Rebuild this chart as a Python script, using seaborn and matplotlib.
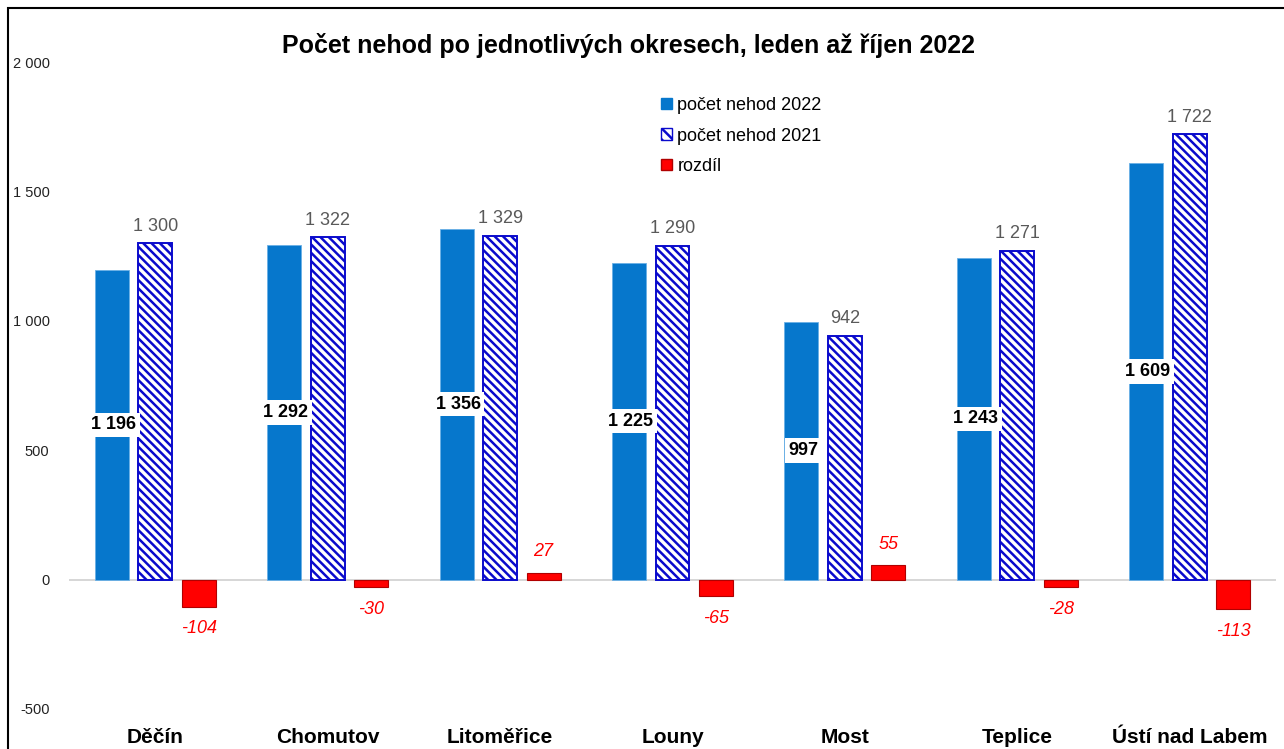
import pandas as pd
import matplotlib
matplotlib.use("Agg")
import matplotlib.pyplot as plt
import seaborn as sns
from matplotlib.patches import Patch, Rectangle
from matplotlib.ticker import FuncFormatter

# data
okresy = ["Děčín", "Chomutov", "Litoměřice", "Louny", "Most", "Teplice", "Ústí nad Labem"]
nehody_2022 = [1196, 1292, 1356, 1225, 997, 1243, 1609]
nehody_2021 = [1300, 1322, 1329, 1290, 942, 1271, 1722]
rozdil = [-104, -30, 27, -65, 55, -28, -113]
serie = ["počet nehod 2022", "počet nehod 2021", "rozdíl"]

df = pd.DataFrame({
    "okres": okresy * 3,
    "serie": [serie[0]] * 7 + [serie[1]] * 7 + [serie[2]] * 7,
    "hodnota": nehody_2022 + nehody_2021 + rozdil,
})

sns.set_style("white")
plt.rcParams["font.family"] = ["Liberation Sans", "DejaVu Sans"]
plt.rcParams["text.color"] = "black"
plt.rcParams["hatch.linewidth"] = 1.8

modra = "#0677CC"
srafa = "#0A0ACC"
cervena = "#FF0000"

fig = plt.figure(figsize=(12.84, 7.49), dpi=100)
ax = fig.add_axes([69 / 1284, 40 / 749, (1276 - 69) / 1284, (709 - 62) / 749])

sns.barplot(data=df, x="okres", y="hodnota", hue="serie", hue_order=serie,
            palette=[modra, "white", cervena], saturation=1, width=0.757, gap=0.22,
            legend=False, ax=ax)

# styling of each series
for bar in ax.containers[0]:
    bar.set_edgecolor("#6AB0E6")
    bar.set_linewidth(0.6)
for bar in ax.containers[1]:
    bar.set_facecolor("white")
    bar.set_edgecolor(srafa)
    bar.set_hatch("\\\\\\\\")
    bar.set_linewidth(1.4)
for bar in ax.containers[2]:
    bar.set_edgecolor("#B00000")
    bar.set_linewidth(0.8)

# labels 2022 - inside bar, bold with white box
for bar, v in zip(ax.containers[0], nehody_2022):
    ax.text(bar.get_x() + bar.get_width() / 2 + 0.01, v / 2, f"{v:,}".replace(",", " "),
            ha="center", va="center", fontsize=13, fontweight="bold", color="black",
            bbox=dict(boxstyle="square,pad=0.2", fc="white", ec="none"))

# labels 2021 - above bar
for bar, v in zip(ax.containers[1], nehody_2021):
    ax.annotate(f"{v:,}".replace(",", " "), (bar.get_x() + bar.get_width() / 2, v),
                xytext=(0, 6), textcoords="offset points", ha="center", va="bottom",
                fontsize=13, color="#595959")

# labels difference
for bar, v in zip(ax.containers[2], rozdil):
    off = 9 if v > 0 else -10
    ax.annotate(str(v), (bar.get_x() + bar.get_width() / 2, v),
                xytext=(0, off), textcoords="offset points", ha="center",
                va="bottom" if v > 0 else "top",
                fontsize=13, color="red", style="italic")

ax.axhline(0, color="#D0D0D0", lw=1.2, zorder=0)
ax.set_ylim(-500, 2000)
ax.set_xlim(-0.5, 6.5)
ax.set_yticks([-500, 0, 500, 1000, 1500, 2000])
ax.yaxis.set_major_formatter(FuncFormatter(lambda x, p: f"{int(x):,}".replace(",", " ")))
ax.tick_params(axis="y", length=0, pad=14, labelsize=10.5, labelcolor="#222222")
ax.tick_params(axis="x", length=0, pad=14, labelsize=15, labelcolor="black")
for lab in ax.get_xticklabels():
    lab.set_fontweight("bold")
ax.set_xlabel("")
ax.set_ylabel("")
sns.despine(ax=ax, left=True, bottom=True)

fig.text(628 / 1284, 1 - 46 / 749, "Počet nehod po jednotlivých okresech, leden až říjen 2022",
         ha="center", va="center", fontsize=18, fontweight="bold", color="black")

handles = [Patch(facecolor=modra, edgecolor=modra),
           Patch(facecolor="white", edgecolor=srafa, hatch="\\\\\\"),
           Patch(facecolor=cervena, edgecolor="#B00000")]
fig.legend(handles, serie, loc="upper left", bbox_to_anchor=(652 / 1284, 1 - 88 / 749),
           frameon=False, fontsize=13, handlelength=0.6, handleheight=0.6,
           handletextpad=0.3, labelspacing=0.75, borderpad=0)

# chart border
fig.patches.append(Rectangle((8 / 1284, -0.05), 1.1, 1 - 8 / 749 + 0.05,
                             transform=fig.transFigure, fill=False,
                             edgecolor="black", lw=1.5))

fig.savefig("out.png", dpi=100)
